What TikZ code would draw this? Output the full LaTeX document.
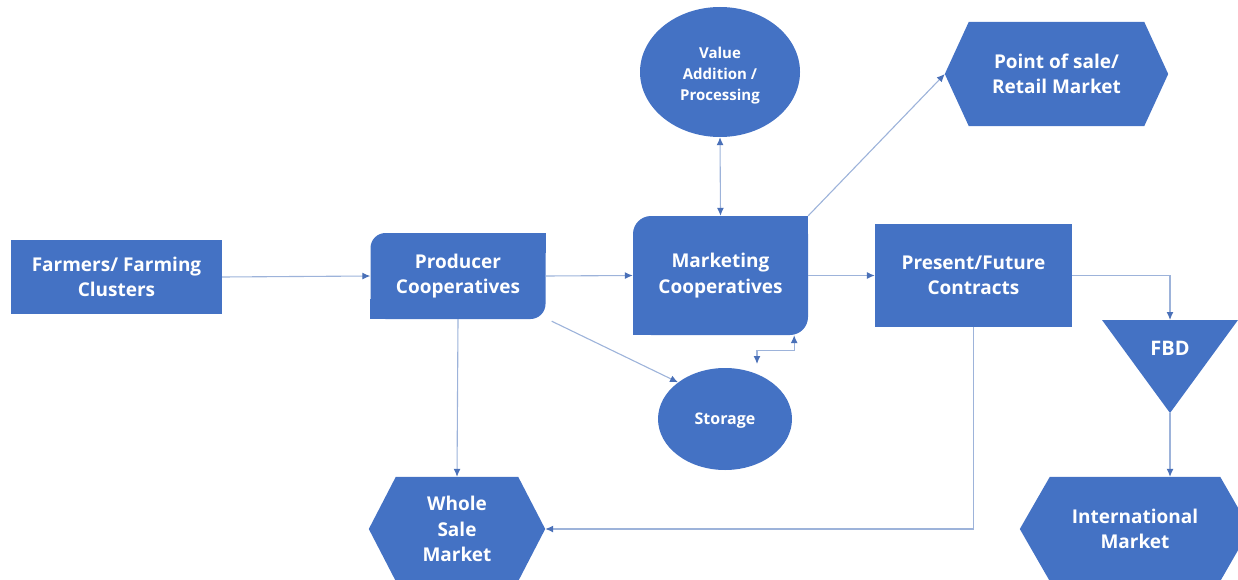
\documentclass[tikz,border=0pt]{standalone}
\usepackage{fontspec}
\setmainfont{Open Sans}
\usetikzlibrary{arrows.meta,backgrounds,calc,shapes.geometric}
\definecolor{boxblue}{HTML}{4472C4}
\definecolor{linecol}{HTML}{9DB3DA}
\definecolor{tipcol}{HTML}{4A70B8}
\tikzset{
  lbl/.style={text=white, font=\fontsize{19}{25.5}\selectfont\bfseries, align=center, inner sep=0pt},
  smalllbl/.style={lbl, font=\fontsize{15}{21}\selectfont\bfseries},
  boxnode/.style={lbl, fill=boxblue},
  conn/.style={draw=linecol, line width=1.1pt, -{Latex[length=8pt,width=7pt,color=tipcol]}},
  bconn/.style={draw=linecol, line width=1.1pt, {Latex[length=8pt,width=7pt,color=tipcol]}-{Latex[length=8pt,width=7pt,color=tipcol]}},
}
\begin{document}
\begin{tikzpicture}[x=1pt,y=-1pt]
\useasboundingbox (0,0) rectangle (1238,580);
\clip (0,0) rectangle (1238,580);

% rectangles
\node[boxnode, minimum width=211pt, minimum height=74pt] (farm) at (116.5,277) {Farmers/ Farming\\Clusters};
\node[boxnode, minimum width=197pt, minimum height=103pt] (pres) at (973.5,275.5) {Present/Future\\Contracts};

% diagonal rounded boxes
\node[boxnode, rounded corners=15pt, minimum width=175pt, minimum height=86pt] (prod) at (458,276) {Producer\\Cooperatives};
\fill[boxblue] (prod.north east) rectangle ([shift={(-20pt,-20pt)}]prod.north east);
\fill[boxblue] (prod.south west) rectangle ([shift={(20pt,20pt)}]prod.south west);
\node[boxnode, rounded corners=18pt, minimum width=175pt, minimum height=119pt] (mkt) at (720.5,275.5) {Marketing\\Cooperatives};
\fill[boxblue] (mkt.north east) rectangle ([shift={(-24pt,-24pt)}]mkt.north east);
\fill[boxblue] (mkt.south west) rectangle ([shift={(24pt,24pt)}]mkt.south west);

% ellipses
\node[ellipse, fill=boxblue, minimum width=160pt, minimum height=130pt, inner sep=0pt] (val) at (720,72) {};
\node[smalllbl] (valtxt) at (720,76) {Value\\Addition /\\Processing};
\node[ellipse, fill=boxblue, minimum width=134pt, minimum height=102pt, inner sep=0pt] (stor) at (725,419) {};
\node[lbl, font=\fontsize{16}{20}\selectfont\bfseries] (stortxt) at (725,421) {Storage};

% hexagons
\node[lbl, minimum width=223pt, minimum height=104pt] (pos) at (1056.5,74) {Point of sale/\\Retail Market};
\node[lbl, minimum width=176pt, minimum height=104pt] (whole) at (457,529) {Whole\\Sale\\Market};
\node[lbl, minimum width=230pt, minimum height=104pt] (intl) at (1135,529) {International\\Market};
\begin{scope}[on background layer]
  \fill[boxblue] (pos.west) -- ([xshift=24pt]pos.north west) -- ([xshift=-24pt]pos.north east) -- (pos.east) -- ([xshift=-24pt]pos.south east) -- ([xshift=24pt]pos.south west) -- cycle;
  \fill[boxblue] (whole.west) -- ([xshift=27pt]whole.north west) -- ([xshift=-27pt]whole.north east) -- (whole.east) -- ([xshift=-27pt]whole.south east) -- ([xshift=27pt]whole.south west) -- cycle;
  \fill[boxblue] (intl.west) -- ([xshift=30pt]intl.north west) -- ([xshift=-30pt]intl.north east) -- (intl.east) -- ([xshift=-30pt]intl.south east) -- ([xshift=30pt]intl.south west) -- cycle;
\end{scope}

% FBD triangle
\coordinate (fbdtop) at (1170,320);
\coordinate (fbdbot) at (1170,413);
\fill[boxblue] (1102,320) -- (1238,320) -- (fbdbot) -- cycle;
\node[lbl, font=\fontsize{20}{24}\selectfont\bfseries] (fbd) at (1170,348) {FBD};

% connectors
\draw[conn] (farm.east) -- (prod.west);
\draw[conn] (prod.east) -- (mkt.west);
\draw[bconn] (val.south) -- (mkt.north);
\draw[conn] (mkt.north east) -- (pos.west);
\draw[conn] (mkt.east) -- (pres.west);
\draw[conn] (pres.east) -| (fbdtop);
\draw[conn] (fbdbot) -- (fbdbot |- intl.north);
\draw[conn] ([shift={(6pt,-2pt)}]prod.south east) -- (stor.142);
\coordinate (sm1) at (757,364);
\draw[bconn] (sm1) |- ([shift={(-14pt,-15pt)}]mkt.south east) -- ([xshift=-14pt]mkt.south east);
\draw[conn] (prod.south) -- (whole.north);
\draw[conn] (pres.south) |- (whole.east);
\end{tikzpicture}
\end{document}
